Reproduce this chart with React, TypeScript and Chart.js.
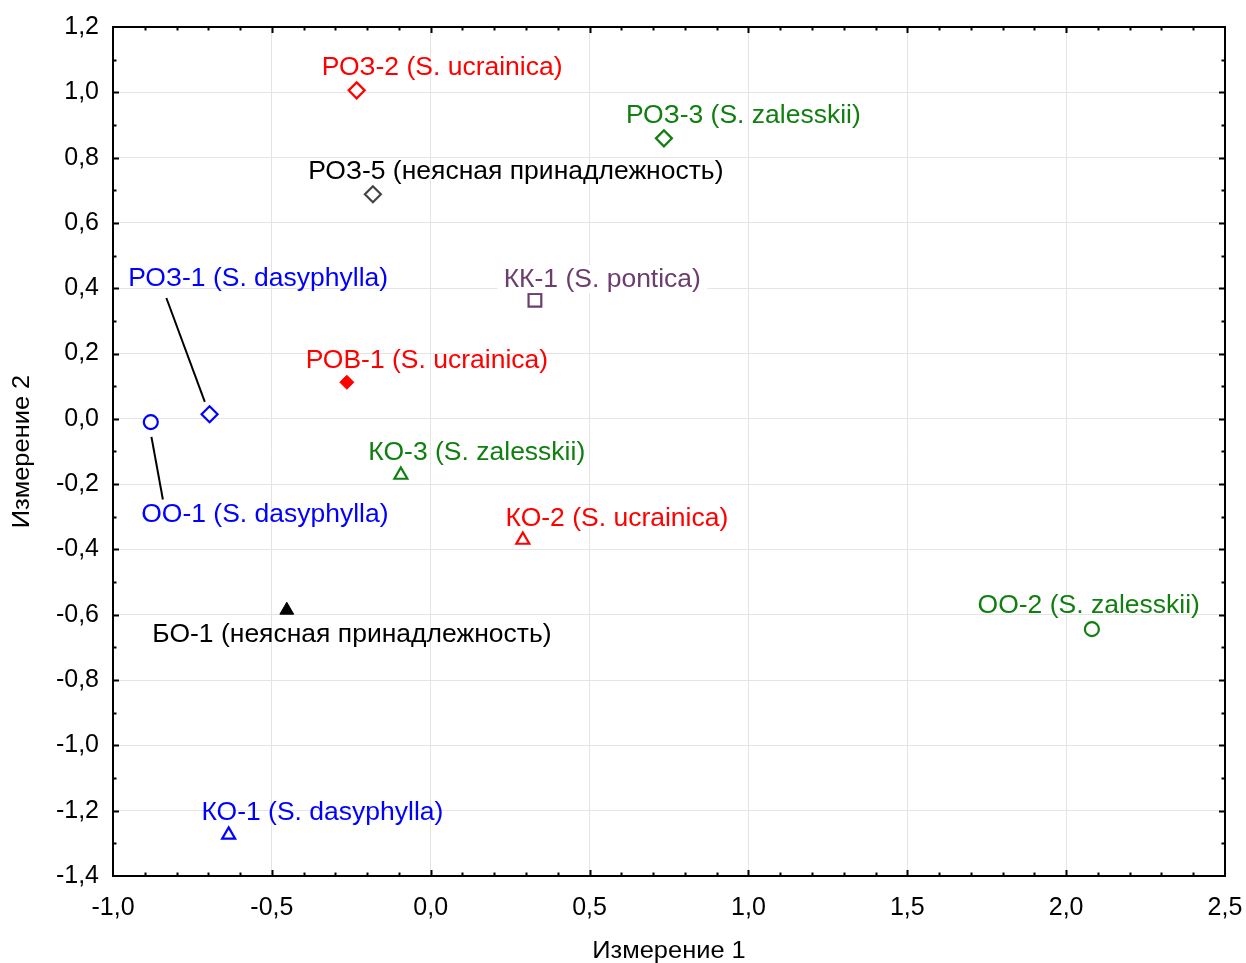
import React, { useEffect, useRef } from 'react';
import { Chart, registerables } from 'chart.js';

Chart.register(...registerables);

// ---- data ----
const sampleNames = [
  'РОЗ-2 (S. ucrainica)',
  'РОЗ-3 (S. zalesskii)',
  'РОЗ-5 (неясная принадлежность)',
  'РОЗ-1 (S. dasyphylla)',
  'КК-1 (S. pontica)',
  'РОВ-1 (S. ucrainica)',
  'КО-3 (S. zalesskii)',
  'ОО-1 (S. dasyphylla)',
  'КО-2 (S. ucrainica)',
  'БО-1 (неясная принадлежность)',
  'ОО-2 (S. zalesskii)',
  'КО-1 (S. dasyphylla)',
];
const dim1Values = [-0.233, 0.734, -0.182, -0.696, 0.328, -0.264, -0.094, -0.881, 0.29, -0.453, 2.081, -0.636];
const dim2Values = [1.006, 0.859, 0.688, 0.014, 0.363, 0.112, -0.172, -0.01, -0.371, -0.586, -0.644, -1.274];
const markerShapes = ['rectRot', 'rectRot', 'rectRot', 'rectRot', 'rect', 'rectRot', 'triangle', 'circle', 'triangle', 'triangle', 'circle', 'triangle'];
const markerColors = ['#ff0000', '#107f10', '#444444', '#0000ff', '#6b3e6e', '#ff0000', '#107f10', '#0000ff', '#ff0000', '#000000', '#107f10', '#0000ff'];
const textColors = ['#ff0000', '#107f10', '#000000', '#0000ff', '#6b3e6e', '#ff0000', '#107f10', '#0000ff', '#ff0000', '#000000', '#107f10', '#0000ff'];
const markerFilled = [false, false, false, false, false, true, false, false, false, true, false, false];
const labelDim1 = [0.036, 0.984, 0.268, -0.543, 0.54, -0.012, 0.145, -0.522, 0.586, -0.248, 2.071, -0.341];
const labelDim2 = [1.077, 0.93, 0.758, 0.43, 0.428, 0.18, -0.102, -0.292, -0.304, -0.659, -0.57, -1.204];
const labelBackground = [false, false, false, false, true, false, false, false, false, false, false, false];
// leader lines [x1, y1, x2, y2] in data units
const leaderLines = [
  [-0.832, 0.37, -0.711, 0.052],
  [-0.879, -0.055, -0.843, -0.247],
];
const xAxisTitle = 'Измерение 1';
const yAxisTitle = 'Измерение 2';
const xMin = -1.0, xMax = 2.5, xStep = 0.5;
const yMin = -1.4, yMax = 1.2, yStep = 0.2;
const minorStep = 0.1;

const FONT = '"Liberation Sans", Arial, sans-serif';
const fmt = (v: number) => (Math.abs(v) < 1e-9 ? 0 : v).toFixed(1).replace('.', ',');

const overlayPlugin = {
  id: 'overlay',
  afterDraw(chart: any) {
    const ctx = chart.ctx as CanvasRenderingContext2D;
    const xs = chart.scales.x;
    const ys = chart.scales.y;
    const { left, right, top, bottom } = chart.chartArea;
    ctx.save();

    // leader lines
    ctx.strokeStyle = '#000';
    ctx.lineWidth = 2;
    leaderLines.forEach(([x1, y1, x2, y2]) => {
      ctx.beginPath();
      ctx.moveTo(xs.getPixelForValue(x1), ys.getPixelForValue(y1));
      ctx.lineTo(xs.getPixelForValue(x2), ys.getPixelForValue(y2));
      ctx.stroke();
    });

    // labels
    ctx.font = `25px ${FONT}`;
    ctx.textAlign = 'center';
    ctx.textBaseline = 'middle';
    sampleNames.forEach((name, i) => {
      const px = xs.getPixelForValue(labelDim1[i]);
      const py = ys.getPixelForValue(labelDim2[i]);
      ctx.save();
      ctx.translate(px, py);
      ctx.scale(1.06, 1);
      if (labelBackground[i]) {
        const w = ctx.measureText(name).width;
        ctx.fillStyle = '#fff';
        ctx.fillRect(-w / 2 - 6, -14, w + 12, 28);
      }
      ctx.fillStyle = textColors[i];
      ctx.fillText(name, 0, 1);
      ctx.restore();
    });

    // frame
    ctx.strokeStyle = '#000';
    ctx.lineWidth = 2;
    ctx.strokeRect(left, top, right - left, bottom - top);

    // ticks (inward, all four sides)
    ctx.lineWidth = 2;
    const nx = Math.round((xMax - xMin) / minorStep);
    for (let k = 1; k < nx; k++) {
      const v = xMin + k * minorStep;
      const major = k % Math.round(xStep / minorStep) === 0;
      const len = major ? 6 : 3.5;
      const p = Math.round(xs.getPixelForValue(v)) + 0.5;
      ctx.beginPath();
      ctx.moveTo(p, bottom); ctx.lineTo(p, bottom - len);
      ctx.moveTo(p, top); ctx.lineTo(p, top + len);
      ctx.stroke();
    }
    const ny = Math.round((yMax - yMin) / minorStep);
    for (let k = 1; k < ny; k++) {
      const v = yMin + k * minorStep;
      const major = k % Math.round(yStep / minorStep) === 0;
      const len = major ? 6 : 3.5;
      const p = Math.round(ys.getPixelForValue(v)) + 0.5;
      ctx.beginPath();
      ctx.moveTo(left, p); ctx.lineTo(left + len, p);
      ctx.moveTo(right, p); ctx.lineTo(right - len, p);
      ctx.stroke();
    }

    // axis titles
    ctx.fillStyle = '#000';
    ctx.font = `24px ${FONT}`;
    ctx.textAlign = 'center';
    ctx.textBaseline = 'middle';
    ctx.save();
    ctx.translate((left + right) / 2, 951);
    ctx.scale(1.06, 1);
    ctx.fillText(xAxisTitle, 0, 0);
    ctx.restore();
    ctx.save();
    ctx.translate(22, (top + bottom) / 2);
    ctx.rotate(-Math.PI / 2);
    ctx.scale(1.06, 1);
    ctx.fillText(yAxisTitle, 0, 0);
    ctx.restore();

    ctx.restore();
  },
};

export default function App() {
  const canvasRef = useRef<HTMLCanvasElement | null>(null);

  useEffect(() => {
    if (!canvasRef.current) return;
    const points = dim1Values.map((x, i) => ({ x, y: dim2Values[i] }));
    const radii = markerShapes.map((s, i) => {
      if (s === 'rect') return 9;
      if (s === 'circle') return 7;
      if (s === 'triangle') return markerFilled[i] ? 8 : 7.5;
      return markerFilled[i] ? 7 : 8;
    });
    const chart = new Chart(canvasRef.current, {
      type: 'scatter',
      data: {
        datasets: [
          {
            data: points,
            pointStyle: markerShapes as any,
            pointRadius: radii,
            pointHoverRadius: radii,
            pointBorderColor: markerColors,
            pointBackgroundColor: markerColors.map((c, i) => (markerFilled[i] ? c : '#ffffff')),
            pointBorderWidth: markerShapes.map((s, i) => (markerFilled[i] ? 1 : 2.2)),
          },
        ],
      },
      options: {
        responsive: false,
        animation: false,
        events: [],
        layout: { padding: { top: 27, right: 21, left: 0, bottom: 0 } },
        plugins: { legend: { display: false }, tooltip: { enabled: false } },
        scales: {
          x: {
            type: 'linear',
            min: xMin,
            max: xMax,
            afterFit: (scale: any) => {
              scale.height = 87;
              scale.paddingLeft = 0;
              scale.paddingRight = 0;
            },
            border: { display: false },
            grid: { color: '#e4e4e4', lineWidth: 1, drawTicks: false },
            ticks: {
              stepSize: xStep,
              padding: 17,
              color: '#000',
              font: { family: FONT, size: 25 },
              maxRotation: 0,
              callback: (v: any) => fmt(Number(v)),
            },
          },
          y: {
            type: 'linear',
            min: yMin,
            max: yMax,
            afterFit: (scale: any) => {
              scale.width = 113;
              scale.paddingTop = 0;
              scale.paddingBottom = 0;
            },
            border: { display: false },
            grid: { color: '#e4e4e4', lineWidth: 1, drawTicks: false },
            ticks: {
              stepSize: yStep,
              padding: 14,
              color: '#000',
              font: { family: FONT, size: 25 },
              callback: (v: any) => fmt(Number(v)),
            },
          },
        },
      },
      plugins: [overlayPlugin],
    });
    return () => chart.destroy();
  }, []);

  return (
    <div style={{ position: 'absolute', left: 0, top: 0, width: 1246, height: 963, background: '#fff' }}>
      <canvas ref={canvasRef} width={1246} height={963} />
    </div>
  );
}
